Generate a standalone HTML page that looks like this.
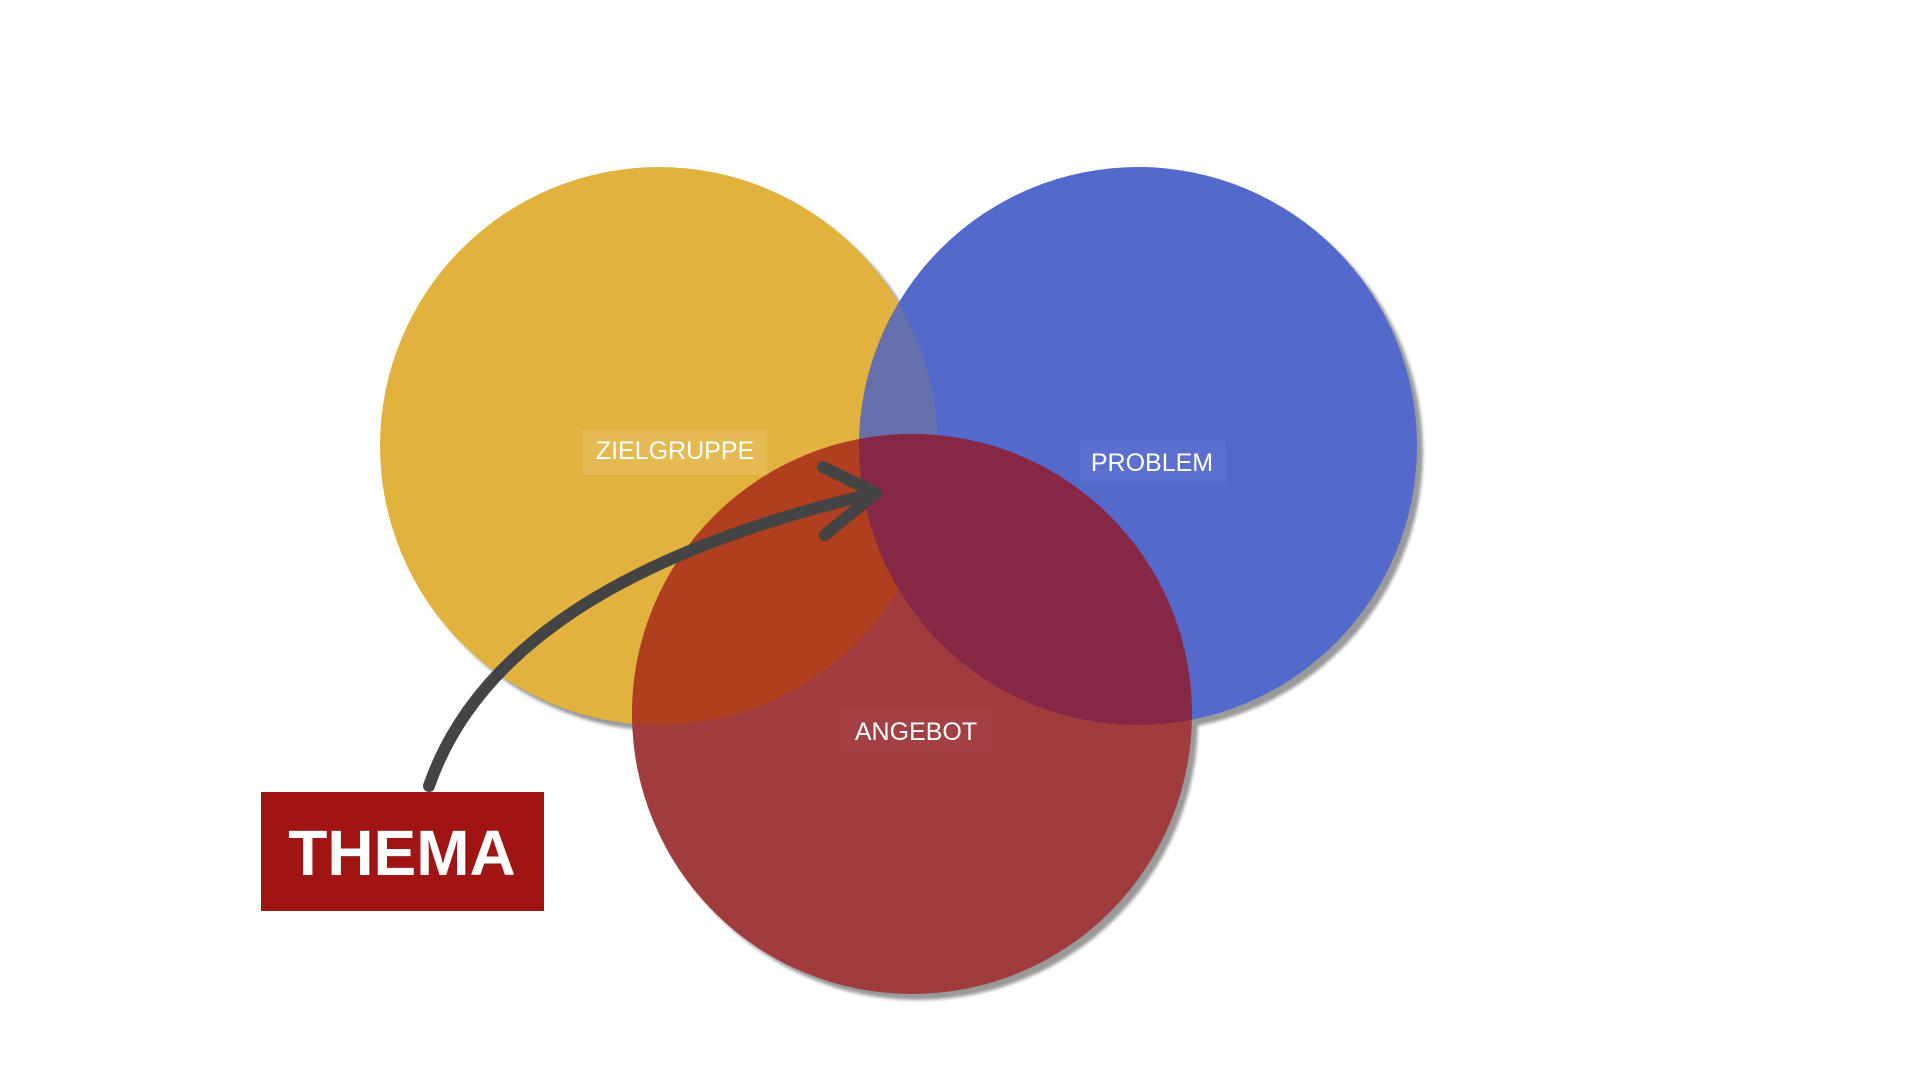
<!DOCTYPE html>
<html><head><meta charset="utf-8"><style>
html,body{margin:0;padding:0;background:#fff;width:1920px;height:1080px;overflow:hidden}
</style></head><body>
<svg width="1920" height="1080" viewBox="0 0 1920 1080" xmlns="http://www.w3.org/2000/svg">
<defs>
<clipPath id="cy"><circle cx="659" cy="446" r="279"/></clipPath>
<clipPath id="cb"><circle cx="1138" cy="446" r="279"/></clipPath>
<clipPath id="cr"><circle cx="912" cy="714" r="280"/></clipPath>
<filter id="sh" x="-10%" y="-10%" width="130%" height="130%"><feGaussianBlur stdDeviation="1.5"/></filter>
</defs>
<circle cx="665" cy="452" r="279" fill="#9a9a9a" filter="url(#sh)"/>
<circle cx="1144" cy="452" r="279" fill="#9a9a9a" filter="url(#sh)"/>
<circle cx="918" cy="720" r="280" fill="#9a9a9a" filter="url(#sh)"/>
<circle cx="659" cy="446" r="279" fill="#E1B33E"/>
<circle cx="1138" cy="446" r="279" fill="#5369CC"/>
<circle cx="912" cy="714" r="280" fill="#A03B3E"/>
<g clip-path="url(#cy)"><circle cx="1138" cy="446" r="279" fill="#6670AC"/></g>
<g clip-path="url(#cy)"><circle cx="912" cy="714" r="280" fill="#B03F1F"/></g>
<g clip-path="url(#cb)"><circle cx="912" cy="714" r="280" fill="#862746"/></g>
<g font-family="Liberation Sans, sans-serif" font-size="25" fill="#fff" text-anchor="middle">
<rect x="582" y="430" width="185" height="45" fill="#E6BC58" opacity="0.8"/>
<text x="675" y="459">ZIELGRUPPE</text>
<rect x="1080" y="441" width="146" height="42" fill="#5B6FD0"/>
<text x="1152" y="471">PROBLEM</text>
<rect x="840" y="710" width="152" height="42" fill="#A34043"/>
<text x="916" y="740">ANGEBOT</text>
</g>
<g fill="none" stroke="#444" stroke-width="12" stroke-linecap="round" stroke-linejoin="round">
<path d="M429 786 Q500 580 876 493"/>
<path d="M823 467 L876 493 L825 535"/>
</g>
<rect x="261" y="792" width="283" height="119" fill="#A01414"/>
<text x="402" y="875" font-family="Liberation Sans, sans-serif" font-weight="bold" font-size="64" fill="#fff" text-anchor="middle">THEMA</text>
</svg>
</body></html>
